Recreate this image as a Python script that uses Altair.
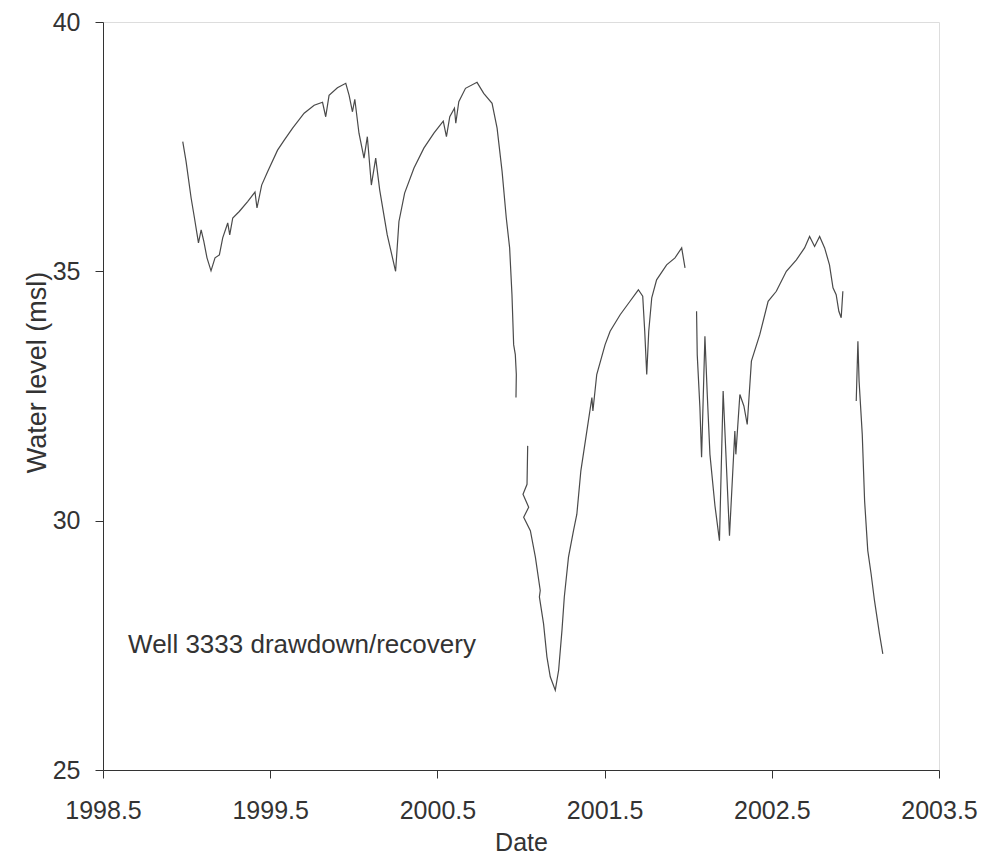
import altair as alt
import pandas as pd

# Segment 1 (1998.98 - 2000.97)
seg1_x = [1998.977, 1998.997, 1999.027, 1999.047, 1999.071, 1999.087, 1999.103, 1999.122, 1999.146,
          1999.170, 1999.196, 1999.216, 1999.246, 1999.258, 1999.276, 1999.315, 1999.365, 1999.409,
          1999.421, 1999.449, 1999.485, 1999.544, 1999.584, 1999.634, 1999.703, 1999.763, 1999.813,
          1999.832, 1999.852, 1999.902, 1999.952, 1999.972, 1999.992, 2000.006, 2000.031, 2000.061,
          2000.081, 2000.105, 2000.131, 2000.155, 2000.200, 2000.250, 2000.270, 2000.304, 2000.360,
          2000.419, 2000.479, 2000.535, 2000.554, 2000.574, 2000.602, 2000.610, 2000.628, 2000.668,
          2000.737, 2000.777, 2000.827, 2000.857, 2000.887, 2000.912, 2000.932, 2000.946, 2000.956,
          2000.966, 2000.972, 2000.970]
seg1_y = [37.60, 37.20, 36.47, 36.07, 35.57, 35.83, 35.60, 35.27, 35.01,
          35.27, 35.33, 35.67, 35.97, 35.73, 36.07, 36.20, 36.40, 36.59,
          36.27, 36.73, 37.00, 37.43, 37.63, 37.87, 38.17, 38.33, 38.39,
          38.10, 38.53, 38.68, 38.77, 38.53, 38.20, 38.45, 37.77, 37.27,
          37.70, 36.73, 37.27, 36.63, 35.73, 35.00, 36.00, 36.57, 37.07,
          37.47, 37.77, 38.01, 37.70, 38.10, 38.27, 37.97, 38.40, 38.67,
          38.79, 38.57, 38.37, 37.87, 37.00, 36.07, 35.47, 34.53, 33.53,
          33.33, 32.93, 32.47]

# Segment 2 (2001.01 - 2001.98)
seg2_x = [2001.040, 2001.036, 2001.012, 2001.046, 2001.016, 2001.056, 2001.086, 2001.115, 2001.110,
          2001.135, 2001.155, 2001.175, 2001.205, 2001.225, 2001.245, 2001.259, 2001.284, 2001.314,
          2001.334, 2001.358, 2001.394, 2001.424, 2001.430, 2001.453, 2001.503, 2001.533, 2001.593,
          2001.652, 2001.702, 2001.728, 2001.740, 2001.752, 2001.764, 2001.782, 2001.811, 2001.871,
          2001.921, 2001.961, 2001.981]
seg2_y = [31.50, 30.73, 30.53, 30.27, 30.07, 29.80, 29.27, 28.60, 28.47,
          27.93, 27.27, 26.87, 26.60, 27.00, 27.80, 28.47, 29.27, 29.80,
          30.13, 31.00, 31.80, 32.47, 32.20, 32.93, 33.53, 33.80, 34.13,
          34.40, 34.63, 34.50, 33.80, 32.93, 33.80, 34.47, 34.83, 35.13,
          35.27, 35.47, 35.07]

# Segment 3 (2002.05 - 2002.93)
seg3_x = [2002.050, 2002.054, 2002.070, 2002.080, 2002.100, 2002.114, 2002.130, 2002.160, 2002.187,
          2002.209, 2002.247, 2002.279, 2002.285, 2002.309, 2002.333, 2002.353, 2002.378, 2002.428,
          2002.478, 2002.527, 2002.587, 2002.647, 2002.696, 2002.726, 2002.756, 2002.786, 2002.816,
          2002.845, 2002.866, 2002.885, 2002.901, 2002.915, 2002.925]
seg3_y = [34.20, 33.33, 32.27, 31.27, 33.70, 32.53, 31.33, 30.30, 29.60,
          32.60, 29.70, 31.80, 31.33, 32.53, 32.30, 31.93, 33.20, 33.73,
          34.40, 34.60, 35.00, 35.23, 35.47, 35.70, 35.50, 35.70, 35.47,
          35.13, 34.67, 34.53, 34.20, 34.07, 34.60]

# Segment 4 (2003.00 - 2003.16)
seg4_x = [2003.005, 2003.015, 2003.022, 2003.041, 2003.055, 2003.074, 2003.094, 2003.114, 2003.144,
          2003.164]
seg4_y = [32.40, 33.60, 32.80, 31.73, 30.40, 29.40, 28.93, 28.40, 27.73, 27.33]

x_ticks = [1998.5, 1999.5, 2000.5, 2001.5, 2002.5, 2003.5]
y_ticks = [25, 30, 35, 40]
note_text = ["Well 3333 drawdown/recovery"]
note_x = [1998.65]
note_y = [27.35]

rows = []
for sid, (xs, ys) in enumerate([(seg1_x, seg1_y), (seg2_x, seg2_y), (seg3_x, seg3_y), (seg4_x, seg4_y)]):
    for i, (xv, yv) in enumerate(zip(xs, ys)):
        rows.append({"seg": sid, "idx": i, "date": xv, "level": yv})
df = pd.DataFrame(rows)
note_df = pd.DataFrame({"x": note_x, "y": note_y, "t": note_text})

FONT = "Liberation Sans"
GRAY = "#333333"

x_scale = alt.Scale(domain=[1998.5, 2003.5], nice=False, zero=False)
y_scale = alt.Scale(domain=[25, 40], nice=False, zero=False)

line = alt.Chart(df).mark_line(color="#4a4a4a", strokeWidth=1.2).encode(
    x=alt.X("date:Q", scale=x_scale,
            axis=alt.Axis(values=x_ticks, format=".1f", title="Date", grid=False,
                          tickSize=8, labelPadding=20, labelFontSize=25, labelFont=FONT,
                          labelColor=GRAY, titleFont=FONT, titleFontSize=25, titleFontWeight="normal",
                          titleColor=GRAY, titleY=72, titleBaseline="middle",
                          domainColor=GRAY, tickColor=GRAY, labelFlush=False)),
    y=alt.Y("level:Q", scale=y_scale,
            axis=alt.Axis(values=y_ticks, format="d", title="Water level (msl)", grid=False,
                          tickSize=8, labelPadding=15, labelFontSize=25, labelFont=FONT,
                          labelColor=GRAY, titleFont=FONT, titleFontSize=27, titleFontWeight="normal",
                          titleColor=GRAY, titleX=-66, titleY=350, titleBaseline="middle",
                          domainColor=GRAY, tickColor=GRAY, labelFlush=False)),
    detail="seg:N",
    order="idx:Q",
)

note = alt.Chart(note_df).mark_text(align="left", baseline="alphabetic", font=FONT, fontSize=26,
                                    color=GRAY).encode(
    x=alt.X("x:Q", scale=x_scale),
    y=alt.Y("y:Q", scale=y_scale),
    text="t:N",
)

chart = alt.layer(line, note).properties(
    width=836, height=748,
    padding={"left": 95, "top": 14, "right": 40, "bottom": 87},
    autosize=alt.AutoSizeParams(type="none"),
).configure_view(stroke=GRAY, strokeWidth=1).configure(background="white")

chart.save("out.html", embed_options={"renderer": "svg", "actions": False})
